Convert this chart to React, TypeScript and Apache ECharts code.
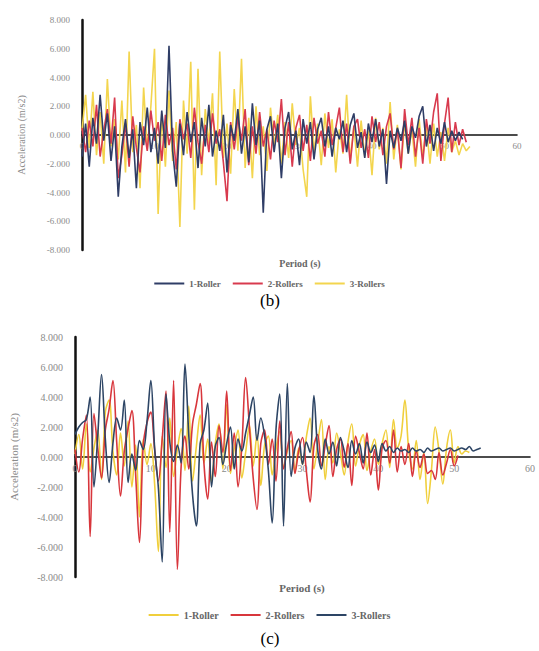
import React, { useEffect, useRef } from "react";
import * as echarts from "echarts";

const STEP = 0.5; // sampling interval (s)
const Y_TICKS = [-8, -6, -4, -2, 0, 2, 4, 6, 8];
const X_TICKS = [0, 10, 20, 30, 40, 50, 60];
const NAMES = ["1-Roller", "2-Rollers", "3-Rollers"];

// ---- Chart (b) ----
const b1Roller = [-1.5,0.8,-2.2,1.2,-0.6,2.8,-0.4,1.5,-1.8,0.6,-4.3,-0.8,1.1,-1.6,0.4,-3.7,0.9,-0.7,1.9,-1.2,0.5,-2.0,1.7,-0.9,6.2,-1.1,-3.6,0.8,-1.4,1.6,-0.5,0.9,-2.3,1.2,-0.8,2.1,-1.5,0.3,-1.1,1.4,-2.6,0.7,-0.4,1.8,-1.3,0.6,-1.9,2.2,-0.7,1.0,-5.4,0.4,1.3,-1.2,0.8,-3.0,0.5,1.6,-1.0,0.3,-2.1,1.1,-0.6,0.9,-1.7,0.4,1.2,-0.8,0.6,-1.5,0.5,-0.3,1.0,-1.2,0.7,1.5,-0.9,0.2,-1.6,0.8,-0.5,1.1,-0.8,0.4,-3.4,0.3,-0.9,0.5,-0.4,1.0,-1.3,0.6,-0.2,1.3,2.0,-0.8,0.7,-1.1,0.5,-0.6,0.9,-0.5,0.3,-0.4,0.2,-0.3];
const b2Rollers = [0.5,-1.2,1.0,-0.8,2.1,-1.5,0.3,1.8,-0.6,2.6,-3.0,-1.4,0.8,-2.2,1.3,-0.9,-2.6,0.6,-1.1,1.7,-0.4,0.9,-1.8,1.4,-0.7,0.5,-2.4,1.1,-0.3,0.8,-1.6,1.9,-0.5,-2.0,0.7,-1.2,1.5,-0.6,0.4,-1.9,-4.6,0.9,-1.0,1.2,-0.4,1.8,-2.1,0.6,-1.3,1.6,-0.8,0.4,-1.7,1.0,-0.5,2.5,-1.4,0.9,-2.2,0.5,1.4,-1.1,0.7,-1.8,1.2,-0.6,0.3,-1.5,1.6,-0.7,0.5,1.9,-1.2,0.8,-2.0,0.6,1.1,-0.9,0.4,-1.6,1.3,-0.5,0.9,-1.4,0.6,1.5,-1.0,0.4,-2.3,1.8,-0.7,1.2,-1.5,0.5,-2.0,1.1,-0.6,1.6,2.9,-1.8,0.8,2.6,-1.2,0.9,-0.7,0.4,-0.5];
const b3Rollers = [0.3,2.8,-0.9,3.0,-1.4,1.6,-2.0,3.9,-0.8,1.1,-1.7,2.4,-2.6,5.8,-1.2,0.7,-3.7,3.3,-1.0,2.0,6.0,-5.5,1.5,-2.2,3.1,-1.8,0.9,-6.4,2.4,-1.3,5.1,-5.2,4.6,-2.8,1.8,-0.6,2.9,-3.5,5.8,-1.6,0.8,-2.7,3.2,-1.1,5.3,-2.3,1.2,-3.0,2.0,-1.4,0.6,-2.5,1.9,-0.8,1.4,-2.0,0.9,-1.6,2.2,-0.7,0.5,-2.4,-4.3,2.7,-1.2,0.8,-2.1,1.5,-0.9,1.1,-2.6,0.4,-1.3,2.8,-1.8,0.6,-2.2,1.0,-1.5,0.3,-2.8,1.2,-1.0,0.5,-2.0,2.3,-1.7,0.7,-2.4,0.9,-1.3,0.4,-2.2,1.1,-1.6,0.6,-2.0,0.8,-1.5,0.2,-1.8,0.5,-1.2,-0.4,-1.4,-0.6,-1.1,-0.8];

// ---- Chart (c) ----
const c1Roller = [0.2,1.5,-0.8,2.2,-1.0,0.6,1.8,-1.5,3.0,3.8,0.4,-1.2,1.6,-0.6,2.4,-2.0,0.8,-4.0,1.2,-0.5,0.9,-1.8,-6.3,1.4,-0.7,2.6,-1.3,0.5,1.9,-0.9,3.4,-1.6,0.7,2.8,-0.4,1.2,-1.7,0.9,2.2,-0.8,3.5,-1.1,0.6,1.8,-1.4,0.3,2.1,-0.6,1.5,-1.9,0.8,1.4,-1.2,0.5,1.7,-0.7,0.4,1.1,-1.0,0.6,-0.5,1.3,2.6,-0.8,0.9,2.5,-1.5,0.7,-0.4,1.6,0.3,-1.2,1.0,2.2,-0.6,0.8,1.5,-0.9,0.4,1.2,-0.5,0.9,1.8,-0.7,2.5,0.6,1.4,3.8,0.5,-0.8,1.1,-1.5,0.3,-3.1,-0.9,2.0,0.4,-1.8,0.6,1.8,-0.4,0.7,0.2,0.4,0.3];
const c2Rollers = [0.5,-1.0,1.2,2.8,-5.3,2.9,0.6,-1.4,1.8,3.2,5.1,1.0,-2.6,0.4,1.9,3.1,-1.2,-5.7,0.8,2.3,3.0,0.5,-1.6,1.2,4.4,-5.0,5.1,-7.5,-0.6,1.4,-0.8,2.2,3.5,4.9,-0.4,-2.8,1.0,-1.3,2.1,0.3,4.4,-0.9,1.6,-2.0,0.7,5.3,2.0,-1.4,-3.5,0.9,1.8,-0.5,1.2,-1.6,2.4,-0.8,0.6,1.7,-1.1,0.4,1.3,-0.9,-3.0,0.7,1.5,-0.6,0.8,2.1,-1.3,0.5,1.2,-0.7,0.9,-1.9,1.4,0.3,-0.8,1.6,-1.2,0.5,-2.2,0.6,1.1,-0.4,1.8,-1.0,0.7,-0.5,0.9,-1.3,0.4,-0.7,0.2,-1.1,-0.9,-1.5,0.3,-1.2,-0.4,0.5,-0.6,0.1];
const c3Rollers = [1.5,2.0,2.3,2.5,4.0,-2.0,1.4,5.5,1.2,-1.7,0.9,2.6,1.8,3.8,-1.7,0.2,-0.9,1.1,0.5,2.4,5.1,0.6,-2.1,-7.0,4.2,1.0,-0.3,0.8,-0.4,6.2,1.5,-2.5,-4.6,0.9,1.8,3.6,-2.0,0.7,1.3,-0.5,0.9,2.0,-0.8,1.2,0.4,1.6,2.8,4.0,1.1,2.6,1.4,-0.9,-4.4,1.8,4.2,-4.6,4.9,-1.3,0.6,1.2,-0.5,1.0,0.3,4.1,0.5,-0.8,1.2,0.2,1.0,-0.6,1.3,0.4,-0.7,1.1,0.2,0.9,-0.4,1.0,0.3,0.8,-0.3,0.9,0.4,0.7,0.3,0.6,0.4,0.5,0.3,0.6,0.4,0.5,0.3,0.6,0.4,0.5,0.6,0.4,0.5,0.6,0.4,0.5,0.6,0.5,0.7,0.4,0.5,0.6];

const toPoints = (vals: number[]) => vals.map((v, i) => [i * STEP, v]);

const SERIF = "'Liberation Serif', 'DejaVu Serif', serif";
const LABEL_GRAY = "#8a8a8a";

type Cfg = {
  grid: { left: number; top: number; width: number; height: number };
  series: { name: string; data: number[]; color: string }[];
  smooth: number | boolean;
  periodY: number;
  periodX: number;
  legendTop: number;
  caption: string;
  captionY: number;
  yNameGap: number;
  fontSize: number;
};

function buildOption(c: Cfg) {
  const yMin = Y_TICKS[0];
  const yMax = Y_TICKS[Y_TICKS.length - 1];
  // place the x axis (line and labels) on the zero line
  const zeroOffset = -c.grid.height * ((0 - yMin) / (yMax - yMin));
  return {
    animation: false,
    backgroundColor: "#ffffff",
    grid: { ...c.grid, containLabel: false },
    xAxis: {
      type: "value",
      min: X_TICKS[0],
      max: X_TICKS[X_TICKS.length - 1],
      interval: 10,
      position: "bottom",
      offset: zeroOffset,
      axisLine: { onZero: false, lineStyle: { color: "#111", width: 1.6 } },
      axisTick: { show: false },
      splitLine: { show: false },
      axisLabel: { color: LABEL_GRAY, fontSize: c.fontSize, fontFamily: SERIF, margin: 6 },
    },
    yAxis: {
      type: "value",
      min: yMin,
      max: yMax,
      interval: 2,
      name: "Acceleration (m/s2)",
      nameLocation: "middle",
      nameGap: c.yNameGap,
      nameTextStyle: { color: LABEL_GRAY, fontSize: c.fontSize + 1, fontFamily: SERIF },
      axisLine: { show: true, onZero: false, lineStyle: { color: "#111", width: 2.5 } },
      axisTick: { show: false },
      splitLine: { show: false },
      axisLabel: {
        color: LABEL_GRAY,
        fontSize: c.fontSize,
        fontFamily: SERIF,
        margin: 12,
        formatter: (v: number) => v.toFixed(3),
      },
    },
    legend: {
      top: c.legendTop,
      left: "center",
      data: NAMES,
      icon: "rect",
      itemWidth: 30,
      itemHeight: 2,
      itemGap: 12,
      textStyle: { color: "#666", fontSize: c.fontSize, fontFamily: SERIF, fontWeight: "bold" },
    },
    graphic: [
      {
        type: "text",
        x: c.periodX,
        y: c.periodY,
        style: {
          text: "Period (s)",
          fill: "#666",
          font: `bold ${c.fontSize + 1}px ${SERIF}`,
          textAlign: "center",
          textVerticalAlign: "middle",
        },
      },
      {
        type: "text",
        x: 270,
        y: c.captionY,
        style: {
          text: c.caption,
          fill: "#000",
          font: `17px ${SERIF}`,
          textAlign: "center",
          textVerticalAlign: "middle",
        },
      },
    ],
    series: c.series.map((s) => ({
      type: "line",
      name: s.name,
      data: toPoints(s.data),
      showSymbol: false,
      smooth: c.smooth,
      lineStyle: { color: s.color, width: 1.6 },
      itemStyle: { color: s.color },
    })),
  };
}

const cfgB: Cfg = {
  grid: { left: 82, top: 20, width: 435, height: 230 },
  series: [
    { name: "3-Rollers", data: b3Rollers, color: "#f3d54e" },
    { name: "2-Rollers", data: b2Rollers, color: "#d83a4e" },
    { name: "1-Roller", data: b1Roller, color: "#2f3d66" },
  ],
  smooth: false,
  periodY: 263,
  periodX: 300,
  legendTop: 274,
  caption: "(b)",
  captionY: 300,
  yNameGap: 56,
  fontSize: 9,
};

const cfgC: Cfg = {
  grid: { left: 73, top: 25, width: 457, height: 240 },
  series: [
    { name: "1-Roller", data: c1Roller, color: "#f0cf3c" },
    { name: "2-Rollers", data: c2Rollers, color: "#d8363c" },
    { name: "3-Rollers", data: c3Rollers, color: "#2d4565" },
  ],
  smooth: 0.35,
  periodY: 276,
  periodX: 302,
  legendTop: 293,
  caption: "(c)",
  captionY: 326,
  yNameGap: 56,
  fontSize: 10,
};

function Chart({ cfg, top, height }: { cfg: Cfg; top: number; height: number }) {
  const ref = useRef<HTMLDivElement>(null);
  useEffect(() => {
    if (!ref.current) return;
    const chart = echarts.init(ref.current, undefined, { renderer: "svg" });
    chart.setOption(buildOption(cfg) as any);
    return () => chart.dispose();
  }, [cfg]);
  return (
    <div
      ref={ref}
      style={{ position: "absolute", left: 0, top, width: 539, height }}
    />
  );
}

export default function App() {
  return (
    <div style={{ position: "fixed", left: 0, top: 0, width: 539, height: 651, background: "#fff" }}>
      <Chart cfg={cfgB} top={0} height={312} />
      <Chart cfg={cfgC} top={312} height={339} />
    </div>
  );
}
